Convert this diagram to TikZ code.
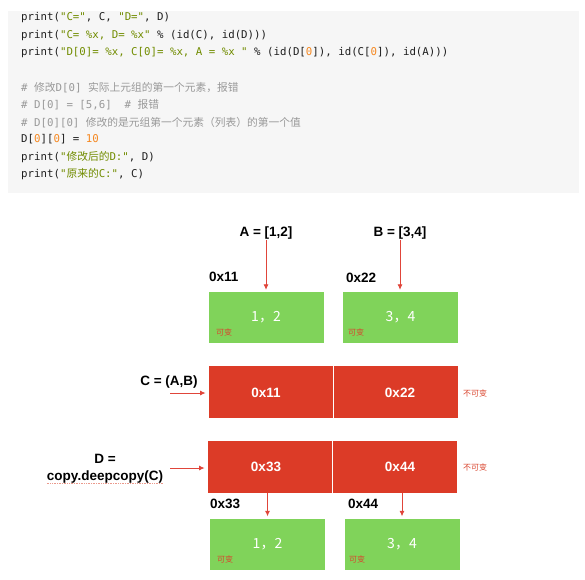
\documentclass[tikz,border=0pt]{standalone}
\usepackage{fontspec}
\setmainfont{Liberation Sans}
\setmonofont{DejaVu Sans Mono}
\newfontfamily\cjk{Noto Sans CJK SC}
\usetikzlibrary{arrows.meta}

\definecolor{codebg}{HTML}{F6F6F6}
\definecolor{codefg}{HTML}{1E1E1E}
\definecolor{codestr}{HTML}{718C00}
\definecolor{codenum}{HTML}{F5871F}
\definecolor{codecom}{HTML}{999999}
\definecolor{cellgreen}{HTML}{80D35A}
\definecolor{cellred}{HTML}{DC3B27}
\definecolor{arrowred}{HTML}{E0453A}
\definecolor{tagred}{HTML}{D9452E}

\newcommand{\cstr}[1]{\textcolor{codestr}{#1}}
\newcommand{\cnum}[1]{\textcolor{codenum}{#1}}
\newcommand{\ccom}[1]{\textcolor{codecom}{#1}}
\newcommand{\zh}[1]{{\cjk #1}}

\tikzset{
	codeline/.style={anchor=west, inner sep=0pt, text=codefg,
		font=\ttfamily\fontsize{10.75}{13}\selectfont},
	lbl/.style={inner sep=0pt, font=\bfseries\fontsize{13.5}{17}\selectfont},
	celltxt/.style={lbl, text=white},
	mutbox/.style={fill=cellgreen, minimum width=115pt, minimum height=51pt,
		inner sep=0pt, text=white, font=\cjk\fontsize{14}{16}\selectfont},
	redcell/.style={fill=cellred, minimum width=124.5pt, minimum height=52pt, inner sep=0pt},
	tag/.style={inner sep=0pt, text=tagred, font=\cjk\fontsize{8}{9}\selectfont},
	ptr/.style={draw=arrowred, line width=0.8pt, -{Latex[length=5.5pt,width=5pt]}},
}

\begin{document}
\begin{tikzpicture}[x=1pt,y=-1pt]
	\useasboundingbox (0,0) rectangle (585,579);

	% code block
	\fill[codebg] (8,11) rectangle (579,193);
	\node[codeline] (l1) at (21,18) {print(\cstr{"C="}, C, \cstr{"D="}, D)};
	\node[codeline] (l2) at (21,35.5) {print(\cstr{"C= \%x, D= \%x"} \% (id(C), id(D)))};
	\node[codeline] (l3) at (21,53) {print(\cstr{"D[0]= \%x, C[0]= \%x, A = \%x "} \% (id(D[\cnum{0}]), id(C[\cnum{0}]), id(A)))};
	\node[codeline] (l4) at (21,87.5) {\ccom{\# \zh{修改}D[0] \zh{实际上元组的第一个元素，报错}}};
	\node[codeline] (l5) at (21,105) {\ccom{\# D[0] = [5,6]\ \ \# \zh{报错}}};
	\node[codeline] (l6) at (21,122.3) {\ccom{\# D[0][0] \zh{修改的是元组第一个元素（列表）的第一个值}}};
	\node[codeline] (l7) at (21,139.5) {D[\cnum{0}][\cnum{0}] = \cnum{10}};
	\node[codeline] (l8) at (21,157) {print(\cstr{"\zh{修改后的}D:"}, D)};
	\node[codeline] (l9) at (21,174.5) {print(\cstr{"\zh{原来的}C:"}, C)};

	% lists A and B
	\node[lbl] (a) at (266,233) {A = [1,2]};
	\node[lbl] (b) at (400,233) {B = [3,4]};
	\node[lbl, anchor=west] (h11) at (209,277) {0x11};
	\node[lbl, anchor=west] (h22) at (346,278) {0x22};
	\node[mutbox] (g1) at (266,317.5) {1，2};
	\node[mutbox] (g2) at (400.5,317.5) {3，4};
	\node[tag, anchor=west] (m1) at (216,332) {可变};
	\node[tag, anchor=west] (m2) at (348,332) {可变};
	\draw[ptr, shorten <=1pt, shorten >=2pt] (a.south) -- (a.south |- g1.north);
	\draw[ptr, shorten <=1pt, shorten >=2pt] (b.south) -- (b.south |- g2.north);

	% tuple C
	\node[lbl] (c) at (169,382) {C = (A,B)};
	\node[redcell] (c0) at (271,392) {};
	\node[redcell] (c1) at (395.5,392) {};
	\draw[white, line width=1pt] (c0.north east) -- (c0.south east);
	\node[celltxt] (c0t) at (266,393) {0x11};
	\node[celltxt] (c1t) at (400,393) {0x22};
	\node[tag, anchor=west] (i1) at (463,393) {不可变};
	\coordinate (cin) at (170,393);
	\draw[ptr, shorten >=3pt] (cin) -- (cin -| c0.west);

	% deep copy D
	\node[lbl, align=center] (d) at (105,468.5) {D =\\copy.deepcopy(C)};
	\draw[tagred!55, densely dotted, line width=0.7pt] (d.south west) -- (d.south east);
	\node[redcell] (d0) at (270,466.5) {};
	\node[redcell] (d1) at (394.5,466.5) {};
	\draw[white, line width=1pt] (d0.north east) -- (d0.south east);
	\node[celltxt] (d0t) at (266,467) {0x33};
	\node[celltxt] (d1t) at (400,467) {0x44};
	\node[tag, anchor=west] (i2) at (463,467) {不可变};
	\coordinate (din) at (170,468);
	\draw[ptr, shorten >=3pt] (din) -- (din -| d0.west);

	% copied lists
	\node[lbl, anchor=west] (h33) at (210,504) {0x33};
	\node[lbl, anchor=west] (h44) at (348,504) {0x44};
	\node[mutbox] (g3) at (267.5,544) {1，2};
	\node[mutbox] (g4) at (402,544) {3，4};
	\node[tag, anchor=west] (m3) at (217,559) {可变};
	\node[tag, anchor=west] (m4) at (349,559) {可变};
	\draw[ptr, shorten >=2pt] (d0.south -| g3.north) -- (g3.north);
	\draw[ptr, shorten >=2pt] (d1.south -| g4.north) -- (g4.north);
\end{tikzpicture}
\end{document}
